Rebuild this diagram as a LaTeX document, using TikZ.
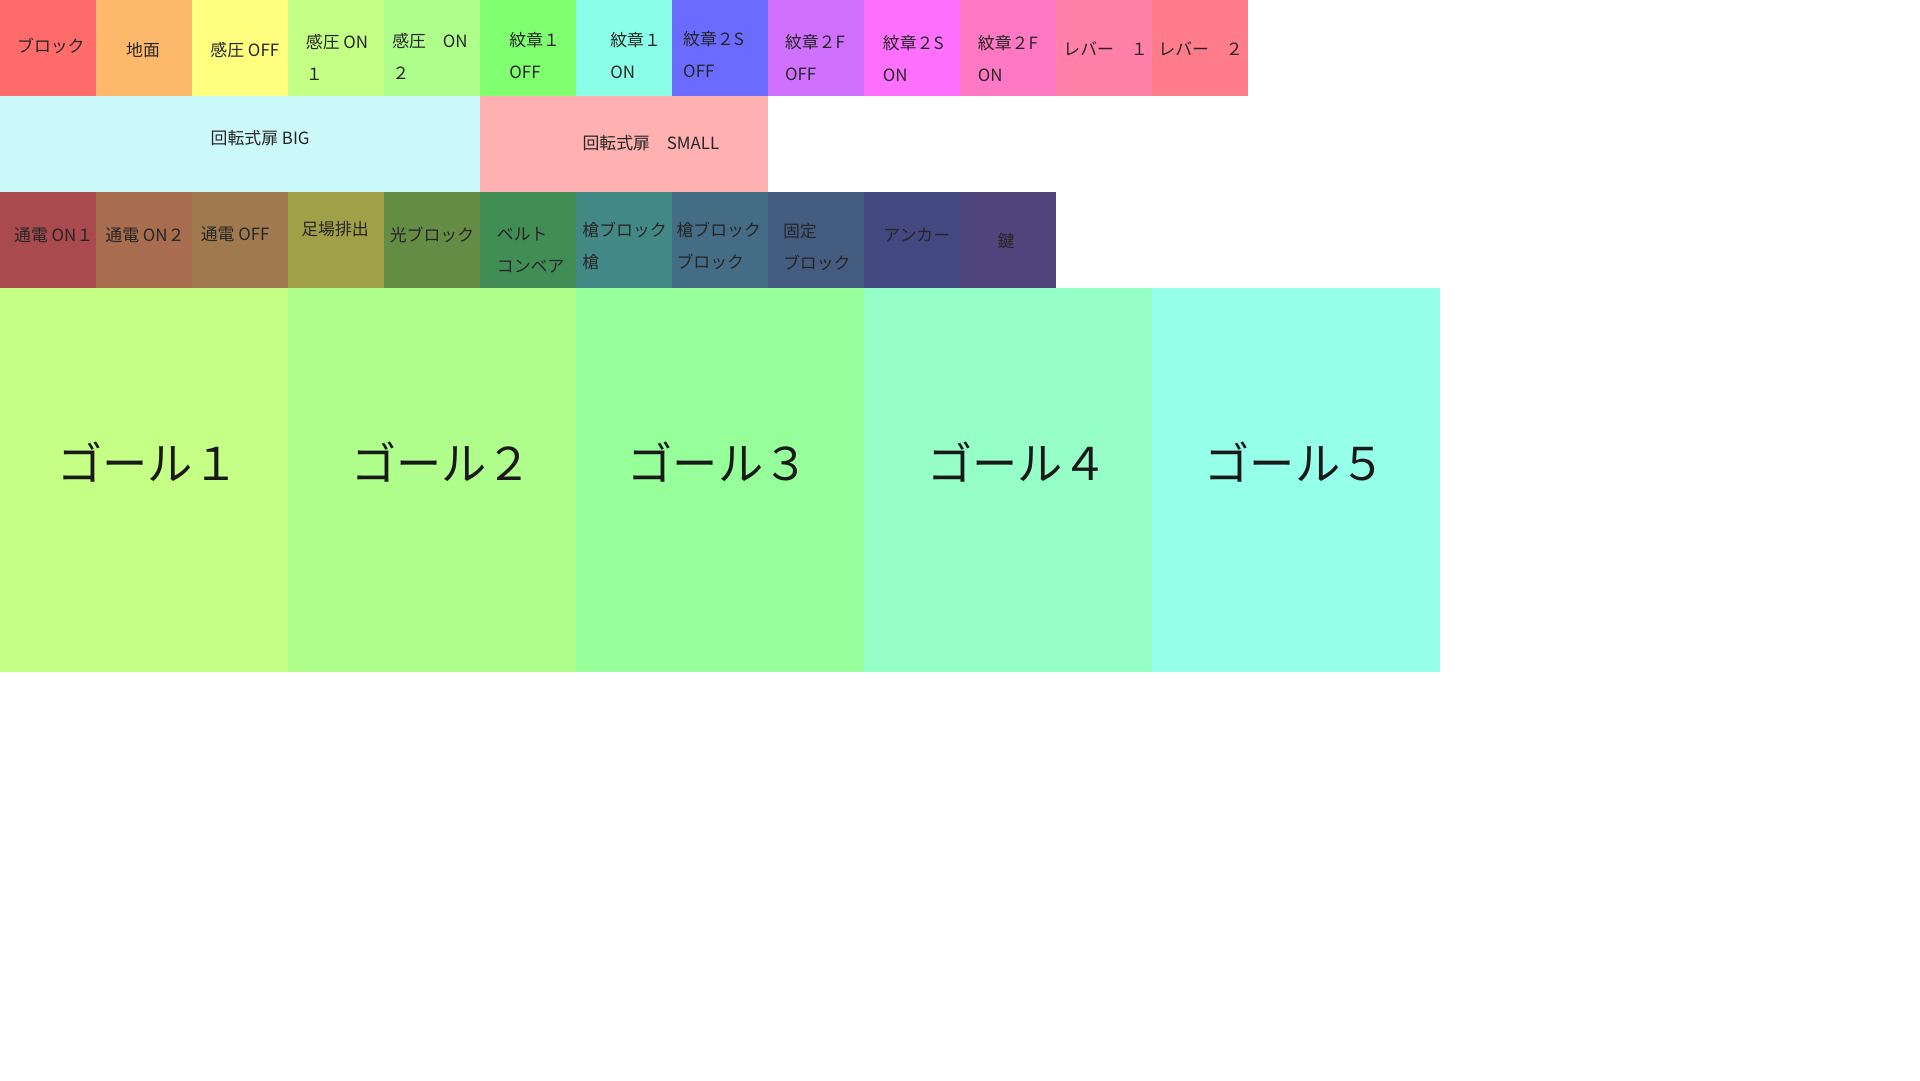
\documentclass[tikz,border=0pt]{standalone}
\usepackage{fontspec}
\setmainfont{Noto Sans CJK JP}
\definecolor{cblock}{HTML}{FF6B6B}
\definecolor{cground}{HTML}{FFB96C}
\definecolor{cpoff}{HTML}{FFFF80}
\definecolor{cpona}{HTML}{C4FF86}
\definecolor{cponb}{HTML}{B0FF8C}
\definecolor{cmaoff}{HTML}{80FF70}
\definecolor{cmaon}{HTML}{8CFFE8}
\definecolor{cmsoff}{HTML}{6B6BFF}
\definecolor{cmfoff}{HTML}{D070FF}
\definecolor{cmson}{HTML}{FF70FF}
\definecolor{cmfon}{HTML}{FF78C4}
\definecolor{clva}{HTML}{FF80A8}
\definecolor{clvb}{HTML}{FF7C8C}
\definecolor{cbig}{HTML}{CCFAFA}
\definecolor{csmall}{HTML}{FFB0B0}
\definecolor{celona}{HTML}{A84A4E}
\definecolor{celonb}{HTML}{A86C4E}
\definecolor{celoff}{HTML}{A07A4E}
\definecolor{cscaf}{HTML}{A0A048}
\definecolor{clight}{HTML}{648C44}
\definecolor{cbelt}{HTML}{428C56}
\definecolor{cspa}{HTML}{428884}
\definecolor{cspb}{HTML}{446C84}
\definecolor{cfix}{HTML}{445C80}
\definecolor{canchor}{HTML}{444880}
\definecolor{ckey}{HTML}{50447C}
\definecolor{cgoala}{HTML}{C6FF86}
\definecolor{cgoalb}{HTML}{B0FF8C}
\definecolor{cgoalc}{HTML}{96FF9A}
\definecolor{cgoald}{HTML}{96FFC8}
\definecolor{cgoale}{HTML}{96FFEA}
\tikzset{
  lbl/.style={inner sep=0pt,text=black!85,font=\fontsize{5}{9.45}\selectfont},
  lbll/.style={lbl,anchor=west,align=left},
  goal/.style={inner sep=0pt,text=black!90,font=\fontsize{13.4}{16}\selectfont}
}
\begin{document}
\begin{tikzpicture}[x=1cm,y=-1cm]
  \useasboundingbox[fill=white] (0,0) rectangle (20,11.25);
  % tiles
  \foreach \c [count=\i from 0] in {cblock,cground,cpoff,cpona,cponb,cmaoff,cmaon,cmsoff,cmfoff,cmson,cmfon,clva,clvb}
    \fill[\c] (\i,0) rectangle ++(1,1);
  \fill[cbig] (0,1) rectangle (5,2);
  \fill[csmall] (5,1) rectangle (8,2);
  \foreach \c [count=\i from 0] in {celona,celonb,celoff,cscaf,clight,cbelt,cspa,cspb,cfix,canchor,ckey}
    \fill[\c] (\i,2) rectangle ++(1,1);
  \foreach \c [count=\i from 0] in {cgoala,cgoalb,cgoalc,cgoald,cgoale}
    \fill[\c] (3*\i,3) rectangle ++(3,4);

  \node[lbl] (block) at (0.53,0.48) {ブロック};
  \node[lbl] (ground) at (1.49,0.52) {地面};
  \node[lbl] (poff) at (2.55,0.52) {感圧 OFF};
  \node[lbll] (pona) at (3.18,0.60) {感圧 ON\\１};
  \node[lbll] (ponb) at (4.08,0.59) {感圧　ON\\２};
  \node[lbll] (maoff) at (5.30,0.58) {紋章１\\OFF};
  \node[lbll] (maon) at (6.35,0.58) {紋章１\\ON};
  \node[lbll] (msoff) at (7.11,0.57) {紋章２S\\OFF};
  \node[lbll] (mfoff) at (8.17,0.60) {紋章２F\\OFF};
  \node[lbll] (mson) at (9.19,0.605) {紋章２S\\ON};
  \node[lbll] (mfon) at (10.18,0.605) {紋章２F\\ON};
  \node[lbll] (lva) at (11.07,0.51) {レバー　１};
  \node[lbll] (lvb) at (12.06,0.51) {レバー　２};

  \node[lbl] (big) at (2.71,1.44) {回転式扉 BIG};
  \node[lbl] (small) at (6.78,1.49) {回転式扉　SMALL};

  \node[lbl] (elona) at (0.56,2.45) {通電 ON１};
  \node[lbl] (elonb) at (1.51,2.45) {通電 ON２};
  \node[lbl] (eloff) at (2.45,2.44) {通電 OFF};
  \node[lbl] (scaf) at (3.49,2.39) {足場排出};
  \node[lbl] (light) at (4.50,2.45) {光ブロック};
  \node[lbll] (belt) at (5.17,2.61) {ベルト\\コンベア};
  \node[lbll] (spa) at (6.06,2.56) {槍ブロック\\槍};
  \node[lbll] (spb) at (7.04,2.56) {槍ブロック\\ブロック};
  \node[lbll] (fix) at (8.15,2.57) {固定\\ブロック};
  \node[lbl] (anchor) at (9.55,2.45) {アンカー};
  \node[lbl] (key) at (10.48,2.51) {鍵};

  \node[goal] (goala) at (1.54,4.81) {ゴール１};
  \node[goal] (goalb) at (4.60,4.81) {ゴール２};
  \node[goal] (goalc) at (7.48,4.81) {ゴール３};
  \node[goal] (goald) at (10.60,4.81) {ゴール４};
  \node[goal] (goale) at (13.49,4.81) {ゴール５};
\end{tikzpicture}
\end{document}
